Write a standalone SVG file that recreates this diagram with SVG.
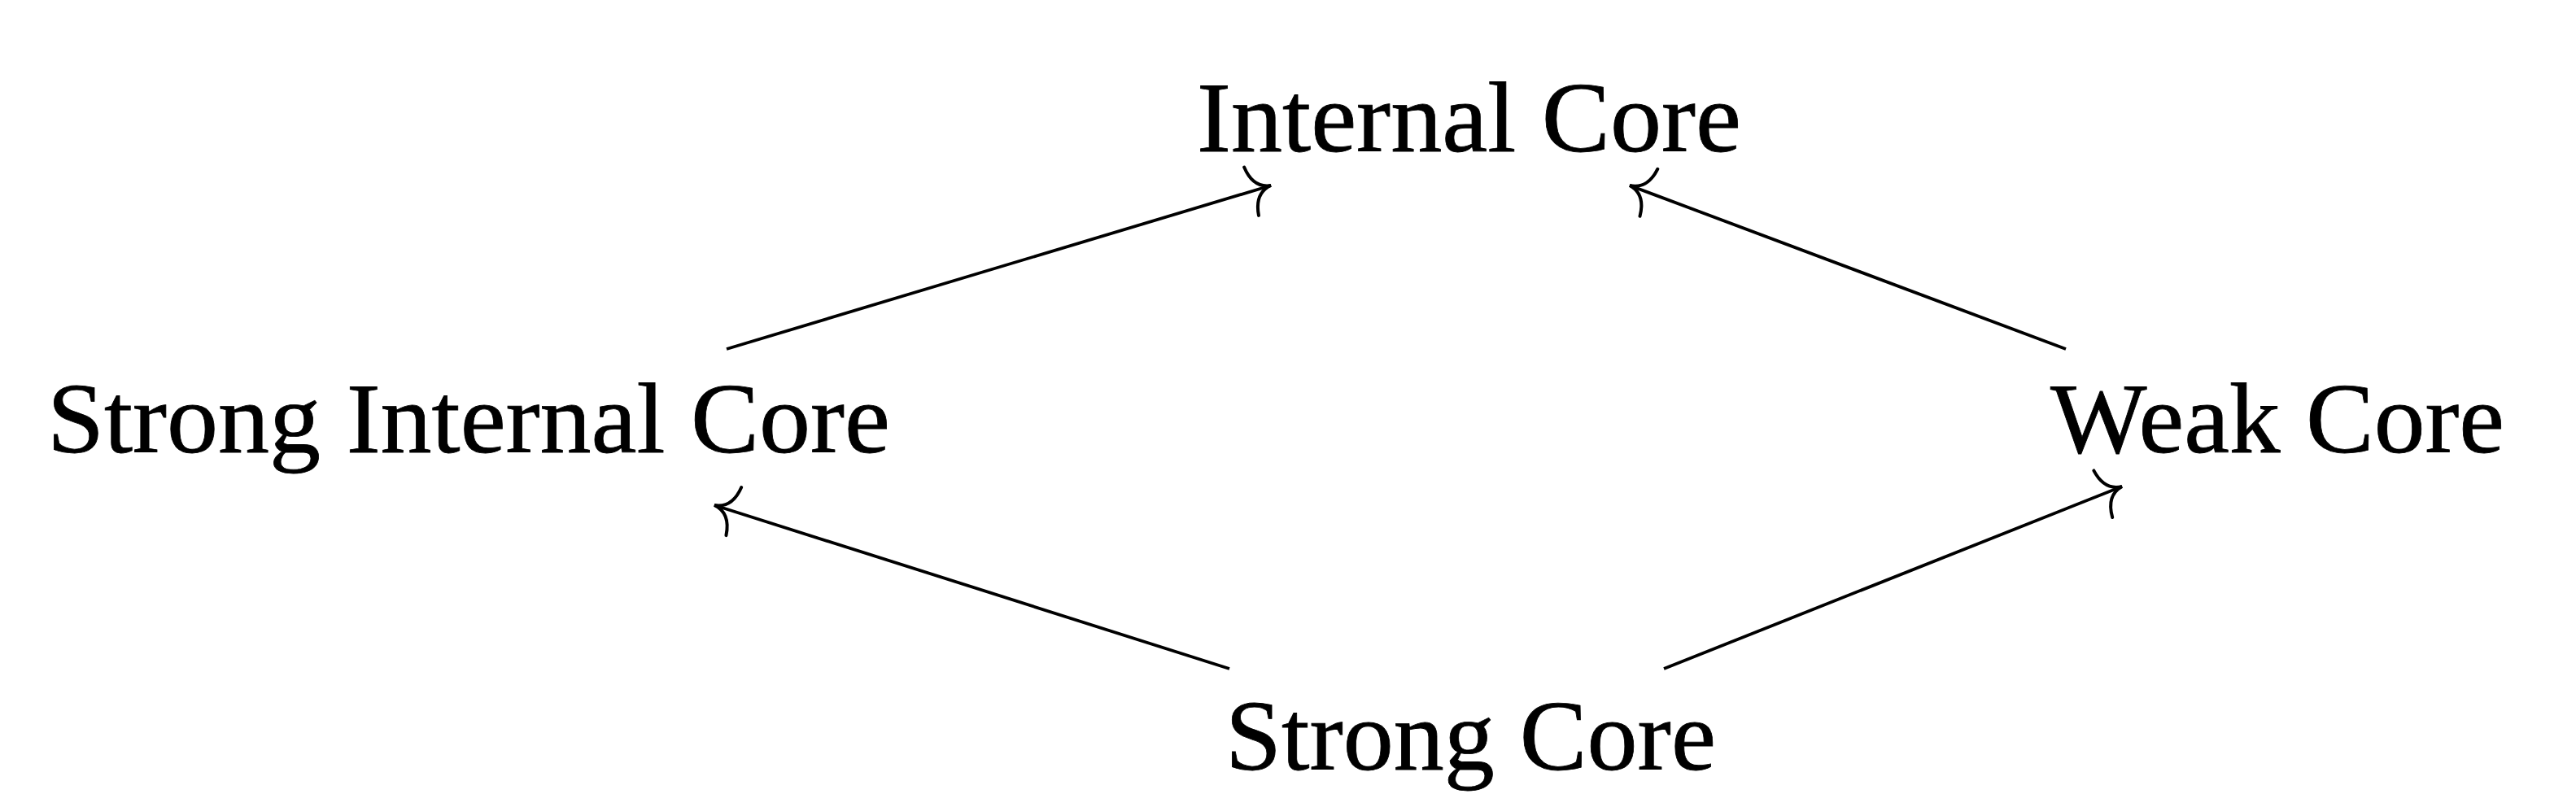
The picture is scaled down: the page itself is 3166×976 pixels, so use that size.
<svg xmlns="http://www.w3.org/2000/svg" width="3166" height="976" viewBox="0 0 3166 976">
<style>
.lbl{font-family:"Liberation Serif","Times New Roman",serif;font-size:122px;fill:#000;stroke:#000;stroke-width:0.8}
.edge{stroke:#000;stroke-width:3.8;fill:none;marker-end:url(#to)}
</style>
<defs>
<marker id="to" markerUnits="userSpaceOnUse" orient="auto" viewBox="-34 -38 40 76" markerWidth="40" markerHeight="76" refX="0" refY="0" overflow="visible">
<path d="M -25,-31 Q -22,-3 0,0 Q -22,3 -25,31" fill="none" stroke="#000" stroke-width="4" stroke-linecap="round"/>
</marker>
</defs>
<rect width="3166" height="976" fill="#fff"/>
<g id="connectors">
<line class="edge" x1="893" y1="429" x2="1562" y2="228"/>
<line class="edge" x1="2539" y1="429" x2="2003" y2="228"/>
<line class="edge" x1="1511" y1="822" x2="878" y2="621"/>
<line class="edge" x1="2045" y1="822" x2="2608" y2="598"/>
</g>
<g id="internal-core"><text class="lbl" x="1471" y="186" textLength="669" lengthAdjust="spacingAndGlyphs">Internal Core</text></g>
<g id="strong-internal-core"><text class="lbl" x="58" y="556" textLength="1036" lengthAdjust="spacingAndGlyphs">Strong Internal Core</text></g>
<g id="weak-core"><text class="lbl" x="2520" y="556" textLength="558" lengthAdjust="spacingAndGlyphs">Weak Core</text></g>
<g id="strong-core"><text class="lbl" x="1506" y="946" textLength="603" lengthAdjust="spacingAndGlyphs">Strong Core</text></g>
</svg>
